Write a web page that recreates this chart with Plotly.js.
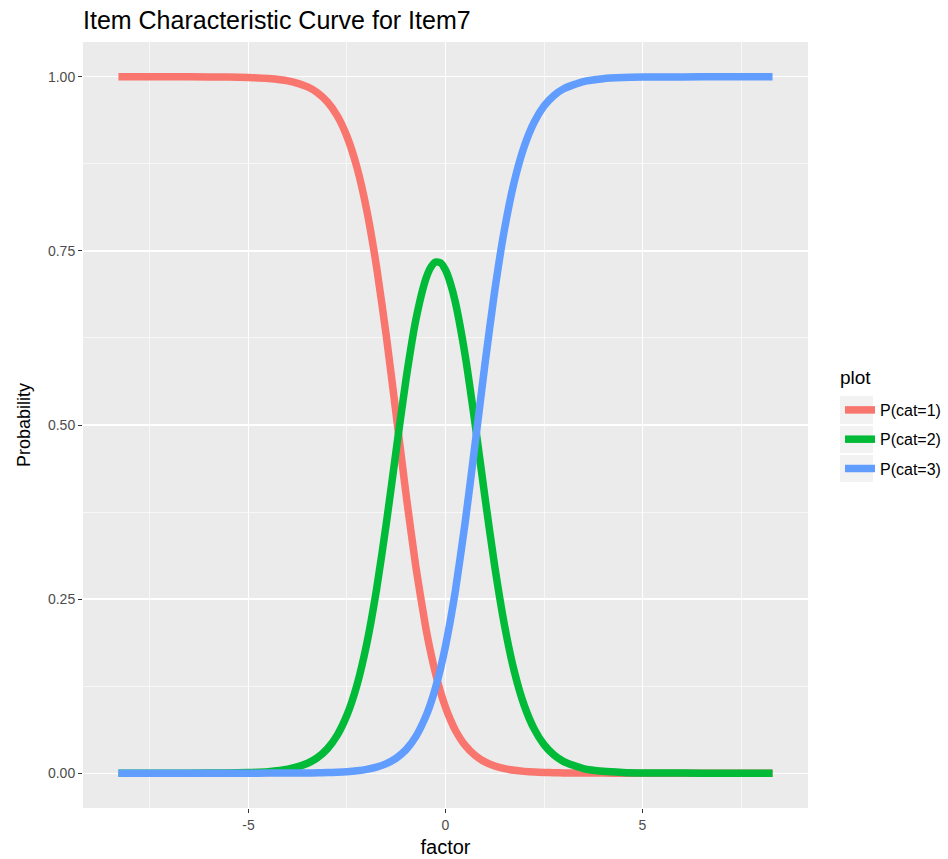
<!DOCTYPE html>
<html>
<head>
<meta charset="utf-8">
<script src="https://cdn.plot.ly/plotly-3.0.1.min.js"></script>
<style>html,body{margin:0;padding:0;background:#fff;}#chart{width:948px;height:859px;}</style>
</head>
<body>
<div id="chart"></div>
<script>
// factor values (x)
const factor = [-8.3, -7, -6, -5, -4.5, -4, -3.5, -3.25, -3, -2.75, -2.5, -2.25, -2, -1.75, -1.5, -1.25, -1, -0.75, -0.5, -0.375, -0.25, -0.125, 0, 0.125, 0.25, 0.5, 0.75, 1, 1.25, 1.5, 1.75, 2, 2.25, 2.5, 2.75, 3, 3.5, 4, 4.5, 5, 6, 7, 8.3];
// P(cat=1)
const pCat1 = [1.000, 1.000, 0.9999, 0.9991, 0.9977, 0.9942, 0.9855, 0.9772, 0.9642, 0.9443, 0.9143, 0.8705, 0.8089, 0.7271, 0.6267, 0.5139, 0.3997, 0.2953, 0.2088, 0.1733, 0.1425, 0.1165, 0.0948, 0.0767, 0.0617, 0.0398, 0.0255, 0.0162, 0.0103, 0.0065, 0.0041, 0.0026, 0.0016, 0.0010, 0.0007, 0.0004, 0.0002, 0.0001, 0.0000, 0.0000, 0.0000, 0.0000, 0.0000];
// P(cat=2)
const pCat2 = [0.0000, 0.0000, 0.0001, 0.0009, 0.0022, 0.0057, 0.0142, 0.0223, 0.0349, 0.0543, 0.0835, 0.1260, 0.1856, 0.2640, 0.3596, 0.4644, 0.5664, 0.6518, 0.7096, 0.7262, 0.7340, 0.7329, 0.7226, 0.7035, 0.6764, 0.5997, 0.5022, 0.3968, 0.2967, 0.2116, 0.1453, 0.0970, 0.0636, 0.0410, 0.0262, 0.0167, 0.0067, 0.0027, 0.0011, 0.0004, 0.0001, 0.0000, 0.0000];
// P(cat=3)
const pCat3 = [0.0000, 0.0000, 0.0000, 0.0000, 0.0001, 0.0001, 0.0003, 0.0005, 0.0009, 0.0014, 0.0022, 0.0035, 0.0055, 0.0087, 0.0137, 0.0217, 0.0339, 0.0529, 0.0816, 0.1005, 0.1235, 0.1506, 0.1826, 0.2198, 0.2619, 0.3605, 0.4723, 0.5870, 0.6930, 0.7819, 0.8506, 0.9004, 0.9348, 0.9580, 0.9731, 0.9829, 0.9932, 0.9973, 0.9989, 0.9996, 0.9999, 1.0000, 1.0000];

const seriesNames = ["P(cat=1)", "P(cat=2)", "P(cat=3)"];
const seriesColors = ["#F8766D", "#00BA38", "#619CFF"];
const seriesValues = [pCat1, pCat2, pCat3];

const yTickVals = [0, 0.25, 0.5, 0.75, 1];
const yTickText = ["0.00", "0.25", "0.50", "0.75", "1.00"];
const xTickVals = [-5, 0, 5];
const xTickText = ["-5", "0", "5"];

const traces = seriesValues.map((vals, i) => ({
  type: "scatter",
  mode: "lines",
  x: factor,
  y: vals,
  name: seriesNames[i],
  legendgroup: "g" + i,
  line: {color: seriesColors[i], width: 7.5, shape: "spline", smoothing: 0.6},
  hoverinfo: "x+y+name"
}));

const FONT = "Liberation Sans, Arial, sans-serif";

const layout = {
  width: 948,
  height: 859,
  margin: {l: 83, r: 140, t: 42, b: 51, autoexpand: false},
  paper_bgcolor: "#FFFFFF",
  plot_bgcolor: "#EBEBEB",
  font: {family: FONT, color: "#4D4D4D", size: 14},
  title: {
    text: "Item Characteristic Curve for Item7",
    x: 0, xref: "paper", xanchor: "left",
    y: 0.977, yref: "container", yanchor: "middle",
    font: {family: FONT, size: 25, color: "#000000"}
  },
  xaxis: {
    range: [-9.2, 9.2],
    tickvals: xTickVals,
    ticktext: xTickText,
    ticks: "outside", ticklen: 4, tickwidth: 1, tickcolor: "#333333",
    showgrid: true, gridcolor: "#FFFFFF", gridwidth: 1.2,
    minor: {dtick: 2.5, tick0: 0, showgrid: true, gridcolor: "#FFFFFF", gridwidth: 0.6, ticks: ""},
    zeroline: false, showline: false,
    tickfont: {family: FONT, size: 14, color: "#4D4D4D"},
    title: {text: "factor", font: {family: FONT, size: 20, color: "#000000"}, standoff: 8}
  },
  yaxis: {
    range: [-0.05, 1.05],
    tickvals: yTickVals,
    ticktext: yTickText,
    ticks: "outside", ticklen: 4, tickwidth: 1, tickcolor: "#333333",
    showgrid: true, gridcolor: "#FFFFFF", gridwidth: 1.2,
    minor: {dtick: 0.125, tick0: 0, showgrid: true, gridcolor: "#FFFFFF", gridwidth: 0.6, ticks: ""},
    zeroline: false, showline: false,
    tickfont: {family: FONT, size: 14, color: "#4D4D4D"},
    title: {text: "Probability", font: {family: FONT, size: 18, color: "#000000"}, standoff: 12}
  },
  showlegend: true,
  legend: {
    x: 0.8861, xanchor: "left", xref: "container",
    y: 0.5425, yanchor: "top", yref: "container",
    bgcolor: "rgba(0,0,0,0)",
    borderwidth: 0,
    tracegroupgap: 5.5,
    itemwidth: 30,
    font: {family: FONT, size: 16, color: "#000000"}
  },
  annotations: [
    {text: "plot", xref: "paper", yref: "paper", x: 1.0428, y: 0.5614, xanchor: "left", yanchor: "middle", showarrow: false, borderpad: 0,
     font: {family: FONT, size: 19, color: "#000000"}}
  ],
  shapes: [
    {type: "rect", xref: "paper", yref: "paper", x0: 1.0441, x1: 1.0897, y0: 0.5013, y1: 0.5379, fillcolor: "#F2F2F2", line: {width: 0}, layer: "above"},
    {type: "rect", xref: "paper", yref: "paper", x0: 1.0441, x1: 1.0897, y0: 0.4634, y1: 0.4987, fillcolor: "#F2F2F2", line: {width: 0}, layer: "above"},
    {type: "rect", xref: "paper", yref: "paper", x0: 1.0441, x1: 1.0897, y0: 0.4256, y1: 0.4608, fillcolor: "#F2F2F2", line: {width: 0}, layer: "above"}
  ]
};

Plotly.newPlot("chart", traces, layout, {displayModeBar: false, staticPlot: true});
</script>
</body>
</html>
